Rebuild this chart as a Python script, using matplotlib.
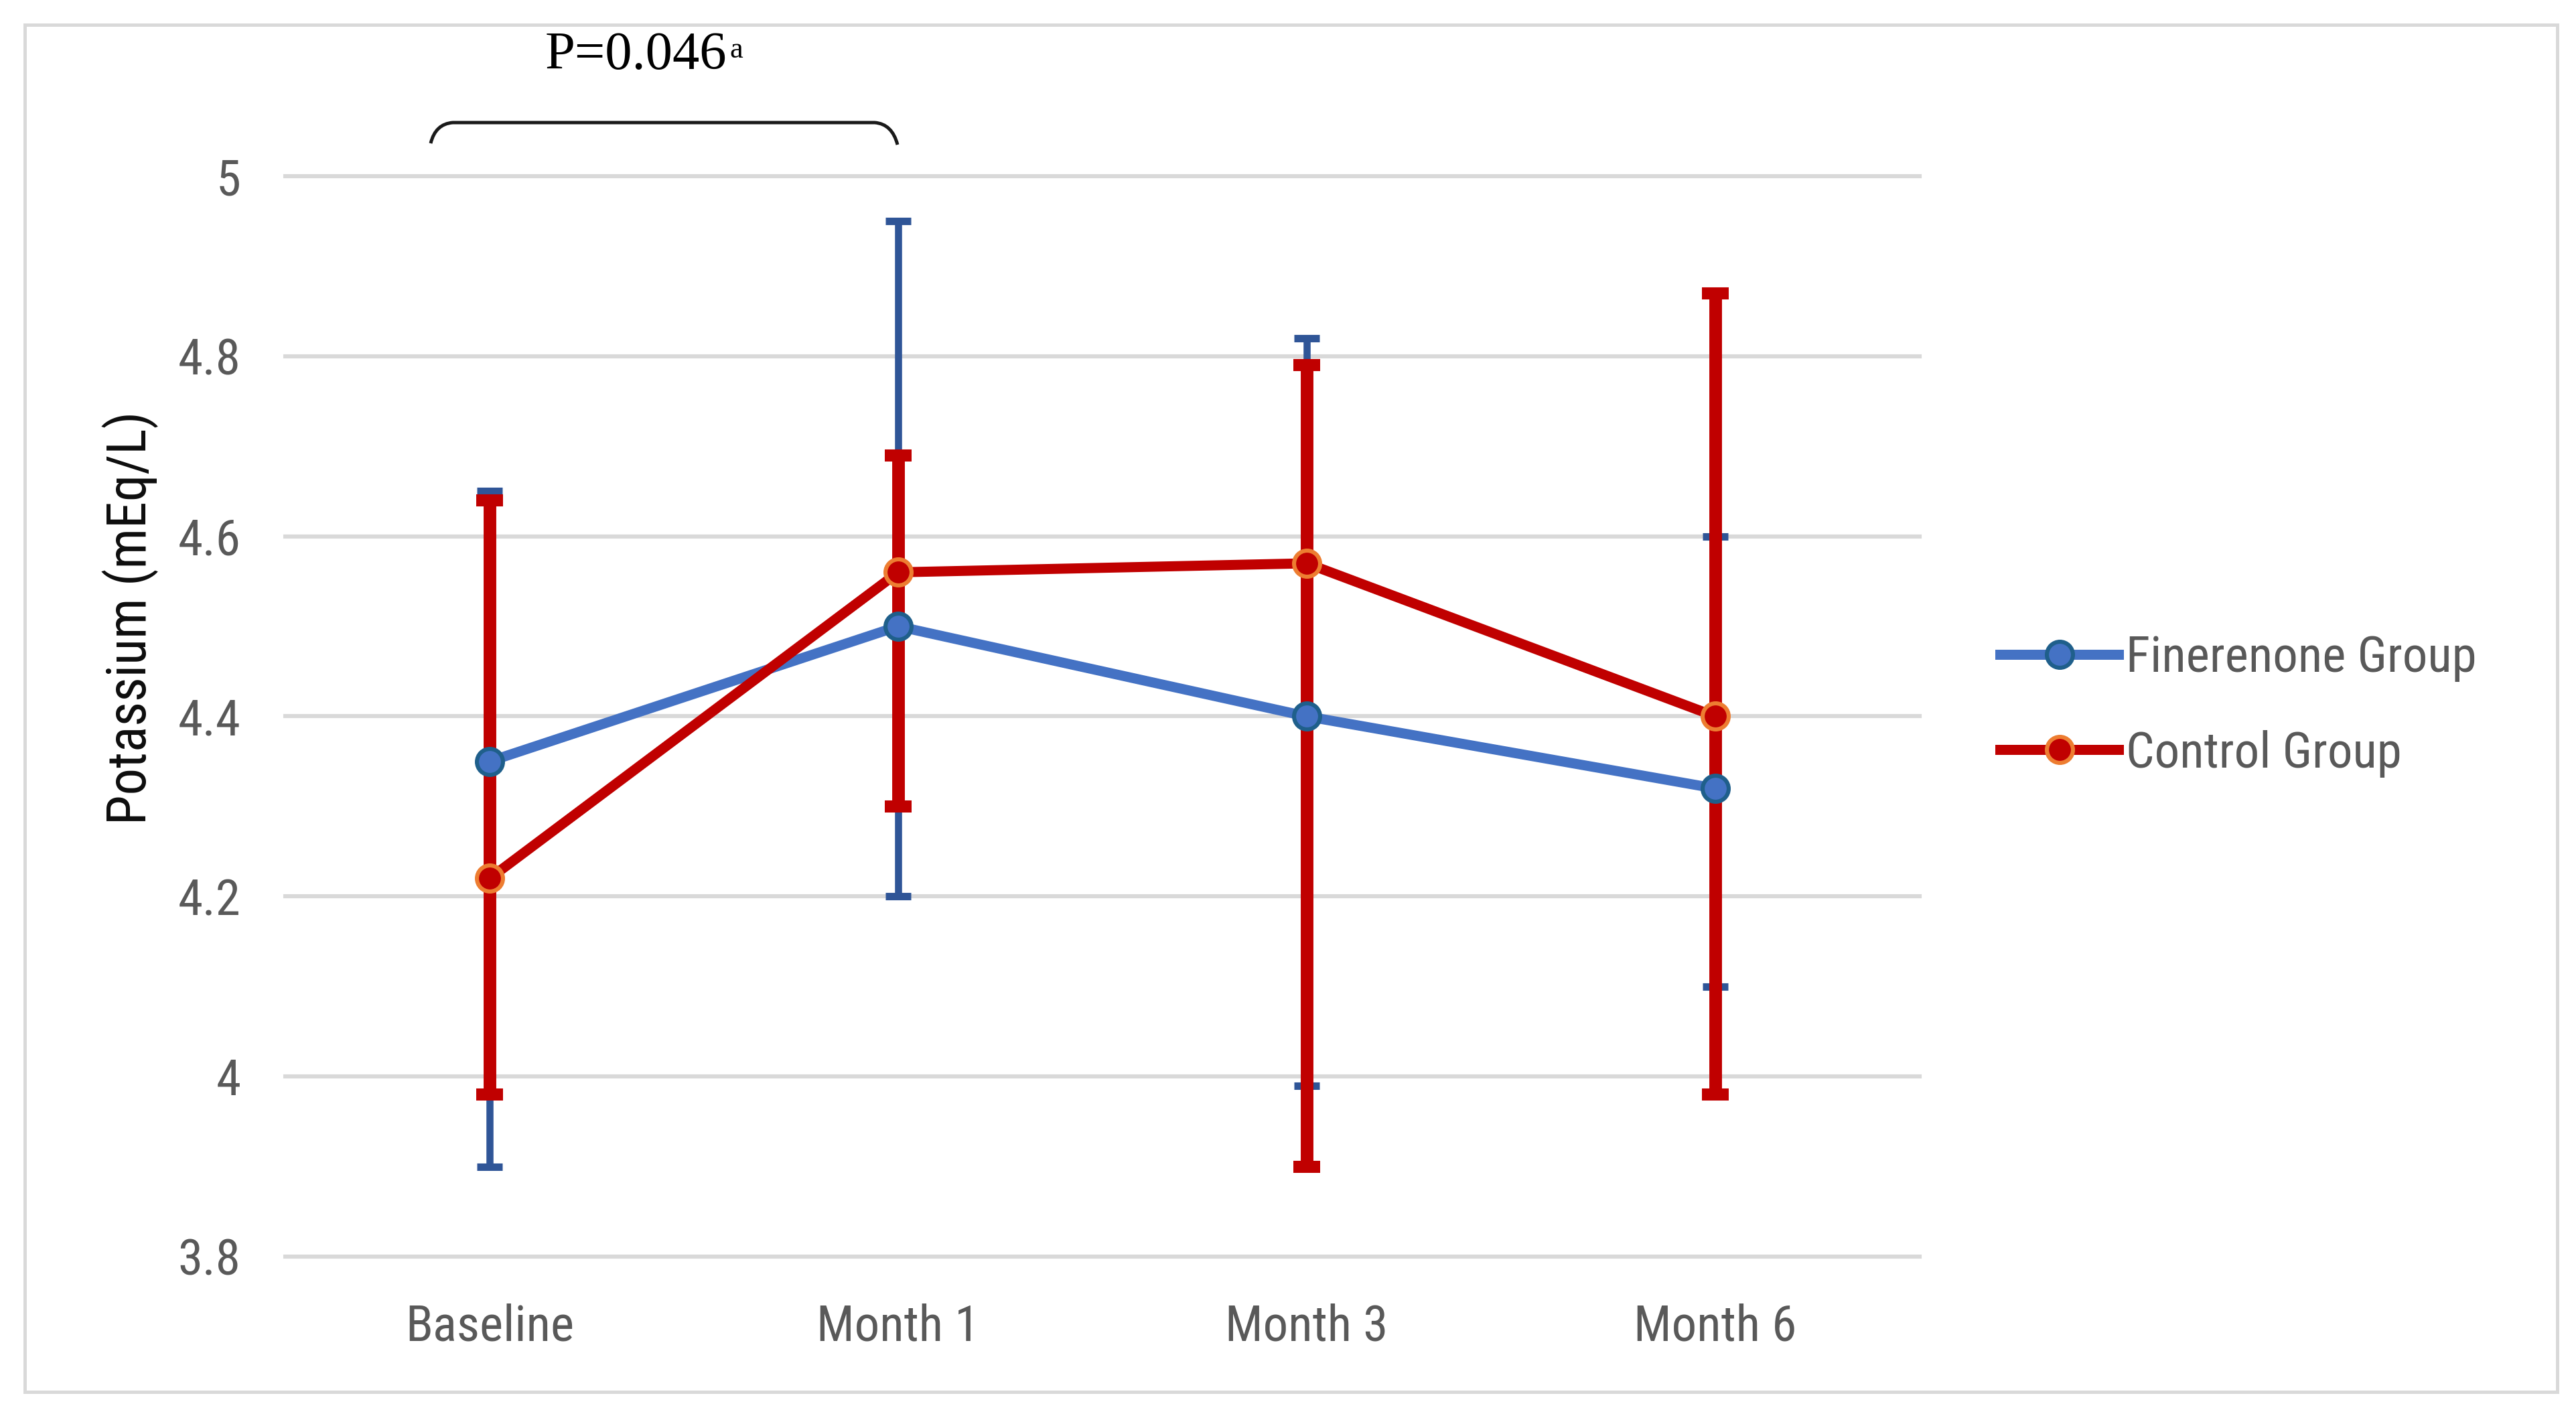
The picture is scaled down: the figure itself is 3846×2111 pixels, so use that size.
import matplotlib
matplotlib.use("Agg")
import matplotlib.pyplot as plt
from matplotlib import font_manager
from matplotlib.path import Path
from matplotlib.patches import PathPatch, Rectangle

# values
timepoints = ["Baseline", "Month 1", "Month 3", "Month 6"]
finerenone_mean = [4.35, 4.50, 4.40, 4.32]
finerenone_low = [3.90, 4.20, 3.99, 4.10]
finerenone_high = [4.65, 4.95, 4.82, 4.60]
control_mean = [4.22, 4.56, 4.57, 4.40]
control_low = [3.98, 4.30, 3.90, 3.98]
control_high = [4.64, 4.69, 4.79, 4.87]
y_ticks = [3.8, 4.0, 4.2, 4.4, 4.6, 4.8, 5.0]
p_label = "P=0.046"
p_mark = "a"

W, H = 3846, 2111
DPI = 200

# a narrow sans if there is one, else plain Liberation Sans a bit smaller
names = {f.name for f in font_manager.fontManager.ttflist}
SANS, FS = "Liberation Sans", 25
for cand in ["Liberation Sans Narrow", "Roboto Condensed", "Open Sans Condensed"]:
    if cand in names:
        SANS, FS = cand, 27
        break
SERIF = "Liberation Serif"
plt.rcParams["font.family"] = [SANS, "DejaVu Sans"]

GRAY_TXT = "#595959"
GRID = "#D9D9D9"


def fx(px):
    return px / W


def fy(py):
    return 1 - py / H


fig = plt.figure(figsize=(W / DPI, H / DPI), dpi=DPI)
ax = fig.add_axes([fx(426), fy(1876), (2866 - 426) / W, (1876 - 263) / H])

x = list(range(len(timepoints)))

for v in y_ticks:
    ax.axhline(v, color=GRID, lw=2.2, zorder=1, clip_on=False)

# error bars (blue under red)
fin_err = [[m - l for m, l in zip(finerenone_mean, finerenone_low)],
           [h - m for m, h in zip(finerenone_mean, finerenone_high)]]
ctl_err = [[m - l for m, l in zip(control_mean, control_low)],
           [h - m for m, h in zip(control_mean, control_high)]]
ax.errorbar(x, finerenone_mean, yerr=fin_err, fmt="none", ecolor="#2F5597",
            elinewidth=3.8, capsize=6.8, capthick=4.0, zorder=2)
ax.errorbar(x, control_mean, yerr=ctl_err, fmt="none", ecolor="#C00000",
            elinewidth=6.8, capsize=7.2, capthick=6.5, zorder=2.1)

ax.plot(x, finerenone_mean, color="#4472C4", lw=5.4, marker="o", ms=14,
        mfc="#4472C4", mec="#1F5F8B", mew=2.2, zorder=3, label="Finerenone Group")
ax.plot(x, control_mean, color="#C00000", lw=5.4, marker="o", ms=14,
        mfc="#C00000", mec="#ED7D31", mew=2.2, zorder=3.1, label="Control Group")

ax.set_xlim(-0.5, 3.5)
ax.set_ylim(3.8, 5.0)
ax.set_xticks(x, labels=timepoints)
ax.set_yticks(y_ticks, labels=[f"{v:g}" for v in y_ticks])
ax.tick_params(axis="x", length=0, pad=25, labelsize=FS, labelcolor=GRAY_TXT)
ax.tick_params(axis="y", length=0, pad=24, labelsize=FS, labelcolor=GRAY_TXT)
for s in ax.spines.values():
    s.set_visible(False)

fig.text(fx(195), fy(922), "Potassium (mEq/L)", rotation=90, ha="center",
         va="center", fontsize=FS + 2, color="#0d0d0d")

# p-value and brace
fig.text(fx(814), fy(103), p_label, family=SERIF, fontsize=29, color="black",
         ha="left", va="baseline")
fig.text(fx(1089), fy(86), p_mark, family=SERIF, fontsize=16, color="black",
         ha="left", va="baseline")
brace_px = [(643, 214), (650, 185), (676, 183), (1306, 183), (1332, 185), (1340, 216)]
codes = [Path.MOVETO, Path.CURVE3, Path.CURVE3, Path.LINETO, Path.CURVE3, Path.CURVE3]
brace = Path([(fx(a), fy(b)) for a, b in brace_px], codes)
fig.patches.append(PathPatch(brace, transform=fig.transFigure, fill=False,
                             ec="#1a1a1a", lw=1.8))

fig.legend(loc="center left", bbox_to_anchor=(fx(2986), fy(1054)), frameon=False,
           borderpad=0, borderaxespad=0, handlelength=2.36, handletextpad=0.15,
           labelspacing=0.95, fontsize=FS, labelcolor=GRAY_TXT)

fig.patches.append(Rectangle((fx(37), fy(2078)), (3818 - 37) / W, (2078 - 37) / H,
                             transform=fig.transFigure, fill=False, ec=GRID, lw=1.8))

fig.savefig("out.png", dpi=DPI)
